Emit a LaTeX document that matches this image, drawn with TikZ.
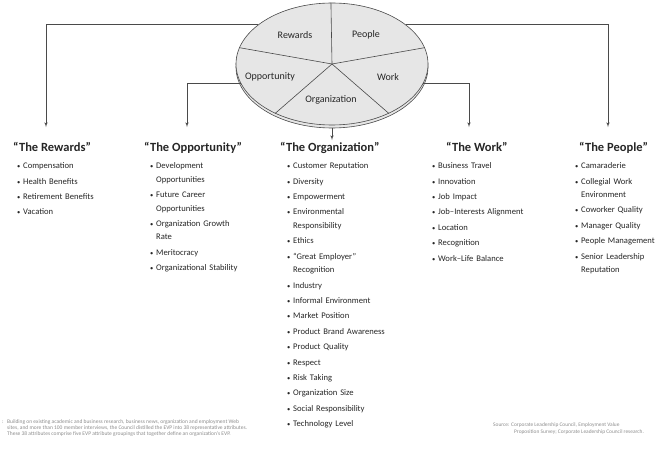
\documentclass[tikz,border=0pt]{standalone}
\usepackage{fontspec}
\setmainfont{Carlito}
\usepackage{tikz}
\usetikzlibrary{arrows,shapes.geometric}
\definecolor{ink}{HTML}{262626}
\definecolor{wire}{HTML}{4A4A4A}
\definecolor{disk}{HTML}{E6E6E6}
\definecolor{note}{HTML}{8C8C8C}
\newcommand\bul{\makebox[6pt][l]{\fontsize{6.5}{6.5}\selectfont\textbullet}}
\newcommand\itm[1]{\hangindent=6pt\hangafter=1\noindent\strut\bul#1\par}

\begin{document}
\begin{tikzpicture}[x=1pt,y=-1pt]
        \tikzset{disc/.style = {shape=ellipse,draw=wire,fill=disk,line width=0.6pt,minimum width=192pt,minimum height=122pt,inner sep=0pt}}
        \tikzset{slice/.style = {draw=wire,line width=0.6pt}}
        \tikzset{wedge/.style = {text=ink,font=\fontsize{10}{10}\selectfont}}
        \tikzset{head/.style = {anchor=base west,inner sep=0pt,text=ink,font=\fontsize{12.5}{12.5}\selectfont\bfseries}}
        \tikzset{items/.style = {anchor=north west,inner sep=0pt,align=left,text=ink,font=\fontsize{8.6}{13.5}\selectfont,execute at begin node={\setlength{\parskip}{1.9pt}}}}
        \tikzset{note/.style = {anchor=north west,inner sep=0pt,align=left,text=note,font=\fontsize{5.5}{6.2}\selectfont}}
        \tikzset{link/.style = {->,> = latex',draw=wire,line width=0.6pt,shorten >=15.5pt}}
        \useasboundingbox (0,0) rectangle (656,449);

        % pie
        \node[disc] (rim) at (332,67) {};
        \node[disc] (pie) at (332,64) {};
        \draw[slice] (pie.center) to (pie.91);
        \draw[slice] (pie.center) to (pie.170);
        \draw[slice] (pie.center) to (pie.10);
        \draw[slice] (pie.center) to (pie.221);
        \draw[slice] (pie.center) to (pie.319);
        \node[wedge] (pRewards) at (295,35) {Rewards};
        \node[wedge] (pPeople) at (366,35) {People};
        \node[wedge] (pOpportunity) at (270,77) {Opportunity};
        \node[wedge] (pWork) at (388,77) {Work};
        \node[wedge] (pOrganization) at (331,100) {Organization};

        % headings
        \node[head] (rewards) at (13,152) {“The Rewards”};
        \node[head] (opportunity) at (144,152) {“The Opportunity”};
        \node[head] (organization) at (280,152) {“The Organization”};
        \node[head] (work) at (446,152) {“The Work”};
        \node[head] (people) at (579,152) {“The People”};

        % lists
        \node[items,text width=110pt] (rewardsList) at (17,159)
            {\itm{Compensation}\itm{Health Benefits}\itm{Retirement Benefits}\itm{Vacation}};
        \node[items,text width=120pt] (opportunityList) at (150,159)
            {\itm{Development\newline Opportunities}\itm{Future Career\newline Opportunities}\itm{Organization Growth\newline Rate}\itm{Meritocracy}\itm{Organizational Stability}};
        \node[items,text width=130pt] (organizationList) at (287,159)
            {\itm{Customer Reputation}\itm{Diversity}\itm{Empowerment}\itm{Environmental\newline Responsibility}\itm{Ethics}\itm{“Great Employer”\newline Recognition}\itm{Industry}\itm{Informal Environment}\itm{Market Position}\itm{Product Brand Awareness}\itm{Product Quality}\itm{Respect}\itm{Risk Taking}\itm{Organization Size}\itm{Social Responsibility}\itm{Technology Level}};
        \node[items,text width=120pt] (workList) at (432,159)
            {\itm{Business Travel}\itm{Innovation}\itm{Job Impact}\itm{Job–Interests Alignment}\itm{Location}\itm{Recognition}\itm{Work–Life Balance}};
        \node[items,text width=80pt] (peopleList) at (575,159)
            {\itm{Camaraderie}\itm{Collegial Work\newline Environment}\itm{Coworker Quality}\itm{Manager Quality}\itm{People Management}\itm{Senior Leadership\newline Reputation}};

        % notes
        \node[note] (footnote) at (2,419)
            {\makebox[5pt][l]{:}Building on existing academic and business research, business news, organization and employment Web\\
             \hspace*{5pt}sites, and more than 100 member interviews, the Council distilled the EVP into 38 representative attributes.\\
             \hspace*{5pt}These 38 attributes comprise five EVP attribute groupings that together define an organization’s EVP.};
        \node[note,font=\fontsize{5.4}{6.2}\selectfont] (source) at (493,423)
            {Source: Corporate Leadership Council, Employment Value\\
             \hspace*{21pt}Proposition Survey; Corporate Leadership Council research.};

        %edges
        \draw[link] (pie.152) -| ([xshift=33pt]rewards.north west);
        \draw[link] (pie.192) -| ([xshift=43pt]opportunity.north west);
        \draw[link] (pie.348) -| ([xshift=23pt]work.north west);
        \draw[link] (pie.28) -| ([xshift=29pt]people.north west);
        \draw[link,shorten >=2.5pt] (rim.south) to (rim.south |- organization.north);
\end{tikzpicture}
\end{document}
